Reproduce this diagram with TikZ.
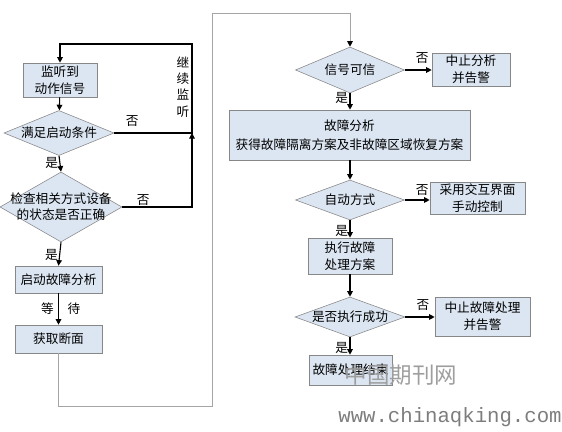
\documentclass[tikz,border=0pt]{standalone}
\usepackage{fontspec}
\setmainfont{Noto Sans CJK SC}
\setmonofont{Liberation Mono}
\usetikzlibrary{positioning,arrows.meta,shapes.geometric}
\definecolor{boxfill}{RGB}{220,230,242}
\definecolor{boxline}{RGB}{135,135,135}
\definecolor{loopgray}{RGB}{165,165,165}
\definecolor{markgray}{RGB}{125,125,125}

\begin{document}
\begin{tikzpicture}[x=0.025cm, y=-0.025cm,
      box/.style={draw=boxline, fill=boxfill, inner sep=0pt, align=center,
                  font=\fontsize{9}{12}\selectfont},
      decision/.style={diamond, draw=boxline, fill=boxfill, inner sep=0pt},
      arr/.style={-{Triangle[length=4pt,width=4pt]}, line width=0.8pt},
      lbl/.style={font=\fontsize{9}{11.5}\selectfont, inner sep=1pt, align=center}]
    \useasboundingbox (0,0) rectangle (562,432);
    % left column: start-up check
    \node[box, minimum width=1.85cm, minimum height=0.85cm] (listen) at (60,80) {监听到\\动作信号};
    \node[decision, minimum width=2.75cm, minimum height=1.125cm,
          label={[lbl]center:{满足启动条件}}] (cond) at (59,133) {};
    \node[decision, minimum width=3.05cm, minimum height=1.75cm,
          label={[lbl]center:{检查相关方式设备\\的状态是否正确}}] (check) at (61,207) {};
    \node[box, minimum width=2.175cm, minimum height=0.675cm] (startfa) at (58.5,279.5) {启动故障分析};
    \node[box, minimum width=2.175cm, minimum height=0.7cm] (getsec) at (58.5,339) {获取断面};
    \coordinate (loopjoin) at (192,133);
    \coordinate (looptop) at (192,44);
    \node[lbl] (keep) at (183,87) {继\\续\\监\\听};
    \draw[arr] (listen) -- (cond);
    \draw[arr] (cond.south) -- node[lbl, left=0pt, pos=0.45]{是} (check.north);
    \draw[arr] (check.south) -- node[lbl, left=0pt, pos=0.55]{是} (startfa.north);
    \draw[arr] (startfa.south) -- node[lbl, left=2pt]{等} node[lbl, right=5pt]{待} (getsec.north);
    \draw[arr] (check.east) -- node[lbl, above, pos=0.3]{否} (check.east -| loopjoin) -- (loopjoin);
    \draw[arr] (cond.east) -- node[lbl, above=3pt, pos=0.23]{否} (loopjoin) -- (looptop)
          -- (looptop -| listen) -- (listen.north);
    % right column: fault handling
    \node[decision, minimum width=2.725cm, minimum height=1.15cm,
          label={[lbl]center:{信号可信}}] (trust) at (350,70) {};
    \node[box, minimum width=1.95cm, minimum height=0.825cm] (stopa) at (471,69.5) {中止分析\\并告警};
    \node[box, minimum width=6.025cm, minimum height=1.25cm, font=\fontsize{9}{13.5}\selectfont]
          (analysis) at (349.5,135) {故障分析\\获得故障隔离方案及非故障区域恢复方案};
    \node[decision, minimum width=2.725cm, minimum height=1cm,
          label={[lbl]center:{自动方式}}] (auto) at (350,200) {};
    \node[box, minimum width=2.375cm, minimum height=0.8cm] (manual) at (477.5,198) {采用交互界面\\手动控制};
    \node[box, minimum width=2.1cm, minimum height=0.9cm] (exec) at (350,256) {执行故障\\处理方案};
    \node[decision, minimum width=2.75cm, minimum height=1cm,
          label={[lbl]center:{是否执行成功}}] (succ) at (350,317) {};
    \node[box, minimum width=2.375cm, minimum height=0.975cm] (stopb) at (482.5,316.5) {中止故障处理\\并告警};
    \node[box, minimum width=2.075cm, minimum height=0.75cm] (finish) at (350.5,370) {故障处理结束};
    \draw[arr] (trust.east) -- node[lbl, above=3pt, pos=0.65]{否} (trust.east -| stopa.west);
    \draw[arr] (trust.south) -- node[lbl, left=0pt, pos=0.3]{是} (trust.south |- analysis.north);
    \draw[arr] (analysis.south -| auto) -- (auto.north);
    \draw[arr] (auto.east) -- node[lbl, above=2pt, pos=0.7]{否} (auto.east -| manual.west);
    \draw[arr] (auto.south) -- node[lbl, left=0pt, pos=0.6]{是} (exec.north);
    \draw[arr] (exec.south) -- (succ.north);
    \draw[arr] (succ.east) -- node[lbl, above=3pt, pos=0.6]{否} (succ.east -| stopb.west);
    \draw[arr] (succ.south) -- node[lbl, left=0pt, pos=0.6]{是} (succ.south |- finish.north);
    % link between the two columns
    \coordinate (bendlow) at (212,406);
    \coordinate (bendtop) at (212,13);
    \draw[loopgray, line width=0.6pt, -{Triangle[length=4pt,width=4pt,black]}]
          (getsec.south) |- (bendlow) -- (bendtop) -| (trust.north);
    % watermark
    \node[text=markgray!75, inner sep=0pt, font=\fontsize{16}{16}\selectfont] (wmark) at (401,375) {中国期刊网};
    \node[text=markgray, inner sep=0pt, font=\ttfamily\fontsize{14.7}{15}\selectfont] (wurl) at (450,417) {www.chinaqking.com};
\end{tikzpicture}
\end{document}
